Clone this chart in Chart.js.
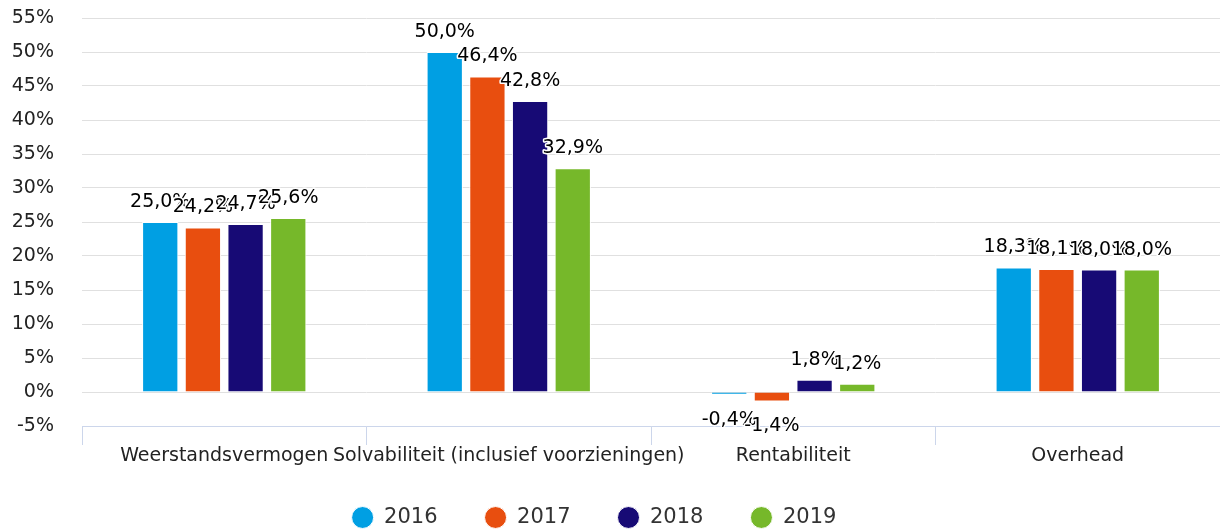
<!DOCTYPE html>
<html>
<head>
<meta charset="utf-8">
<script src="https://cdn.jsdelivr.net/npm/chart.js@4/dist/chart.umd.min.js"></script>
<style>
  html, body { margin: 0; padding: 0; background: #fff; }
  #wrap { width: 1220px; height: 529px; position: relative; }
</style>
</head>
<body>
<div id="wrap"><canvas id="kengetallenChart"></canvas></div>
<script>
// Categories and values
const categories = ["Weerstandsvermogen", "Solvabiliteit (inclusief voorzieningen)", "Rentabiliteit", "Overhead"];
const years = ["2016", "2017", "2018", "2019"];
const values2016 = [25.0, 50.0, -0.4, 18.3];
const values2017 = [24.2, 46.4, -1.4, 18.1];
const values2018 = [24.7, 42.8, 1.8, 18.0];
const values2019 = [25.6, 32.9, 1.2, 18.0];
const yMin = -5;
const yMax = 55;
const yStep = 5;

const colors = ["#009fe3", "#e84e0f", "#170a75", "#76b82a"];
const fontFamily = "'DejaVu Sans', Verdana, sans-serif";

const formatPct = v => v.toFixed(1).replace(".", ",") + "%";

// Simple data label plugin (Chart.js has no built-in one)
const barLabels = {
    id: "barLabels",
    afterDatasetsDraw(chart) {
        const ctx = chart.ctx;
        ctx.save();
        ctx.font = "19px " + fontFamily;
        ctx.textAlign = "center";
        ctx.textBaseline = "middle";
        ctx.lineJoin = "round";
        chart.data.datasets.forEach((ds, i) => {
            const meta = chart.getDatasetMeta(i);
            meta.data.forEach((bar, j) => {
                const v = ds.data[j];
                const y = v >= 0 ? bar.y - 20 : bar.y + 25;
                const text = formatPct(v);
                ctx.strokeStyle = "#fff";
                ctx.lineWidth = 3;
                ctx.strokeText(text, bar.x, y);
                ctx.fillStyle = "#000";
                ctx.fillText(text, bar.x, y);
            });
        });
        ctx.restore();
    }
};

// Move the legend a bit up/left so its items sit where they are in the picture
const legendShift = {
    id: "legendShift",
    afterLayout(chart) {
        const lg = chart.legend;
        if (!lg) return;
        lg.top -= 10;
        lg.height += 10;
        lg.left -= 16;
        lg.right -= 16;
    }
};

const ctx = document.getElementById("kengetallenChart").getContext("2d");

new Chart(ctx, {
    type: "bar",
    data: {
        labels: categories,
        datasets: [values2016, values2017, values2018, values2019].map((vals, i) => ({
            label: years[i],
            data: vals,
            backgroundColor: colors[i],
            borderColor: "#ffffff",
            borderWidth: 1,
            categoryPercentage: 0.6,
            barPercentage: 0.85
        }))
    },
    options: {
        responsive: true,
        maintainAspectRatio: false,
        animation: false,
        layout: { padding: { top: 18, right: 0, bottom: 0, left: 0 } },
        plugins: {
            legend: {
                position: "bottom",
                maxHeight: 59,
                labels: {
                    usePointStyle: true,
                    pointStyle: "circle",
                    boxWidth: 22,
                    boxHeight: 15.5,
                    pointStyleWidth: 22,
                    padding: 47,
                    color: "#333",
                    font: { family: fontFamily, size: 21 }
                }
            },
            tooltip: { enabled: false }
        },
        scales: {
            x: {
                grid: {
                    drawOnChartArea: false,
                    drawTicks: true,
                    tickLength: 19,
                    color: "#ccd6eb"
                },
                border: { display: true, color: "#ccd6eb", width: 1 },
                ticks: {
                    autoSkip: false,
                    maxRotation: 0,
                    minRotation: 0,
                    padding: 0,
                    color: "#222",
                    font: { family: fontFamily, size: 19 }
                },
                afterFit: scale => { scale.height = 44; }
            },
            y: {
                min: yMin,
                max: yMax,
                grid: { color: "#e0e0e0", lineWidth: 1, drawTicks: false },
                border: { display: false },
                ticks: {
                    stepSize: yStep,
                    padding: 28,
                    color: "#222",
                    font: { family: fontFamily, size: 19 },
                    callback: v => v + "%"
                },
                afterFit: scale => {
                    scale.width = 82;
                    scale.paddingTop = 0;
                    scale.paddingBottom = 0;
                }
            }
        }
    },
    plugins: [barLabels, legendShift]
});
</script>
</body>
</html>
